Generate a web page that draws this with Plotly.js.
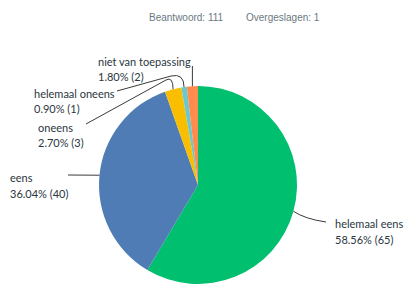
<!DOCTYPE html>
<html>
<head>
<meta charset="utf-8">
<script src="https://cdn.plot.ly/plotly-3.0.1.min.js"></script>
<style>
  html, body { margin: 0; padding: 0; background: #ffffff; }
  #chart { width: 407px; height: 286px; }
</style>
</head>
<body>
<div id="chart"></div>
<script>
// ---- data ----
var categories = ["helemaal eens", "eens", "oneens", "helemaal oneens", "niet van toepassing"];
var counts = [65, 40, 3, 1, 2];
var colors = ["#00BF6F", "#507CB6", "#F9BE00", "#6BC8CD", "#FF8B4F"];
var answered = 111;
var skipped = 1;

// ---- layout helpers (pixel -> paper, margins are zero) ----
var W = 407, H = 286;
function px(x) { return x / W; }
function py(y) { return 1 - y / H; }

// pie geometry (layout)
var cx = 198, cy = 185, r = 99;

var total = counts.reduce(function (a, b) { return a + b; }, 0);
var pct = counts.map(function (c) { return (100 * c / total).toFixed(2) + "%"; });

// mid-angle edge point of each slice (clockwise from 12 o'clock), derived from data
var edge = [];
var cum = 0;
for (var i = 0; i < counts.length; i++) {
  var mid = (cum + counts[i] / 2) / total * 2 * Math.PI;
  edge.push([cx + r * Math.sin(mid), cy - r * Math.cos(mid)]);
  cum += counts[i];
}

// label placement (layout): left x, first line y, second line y
var labelPos = [
  [333, 223, 239],
  [8, 177, 193],
  [36, 127, 142],
  [32, 94, 109],
  [96, 62, 77]
];

var annotations = [];
var font = { family: "Lato, 'Open Sans', sans-serif", size: 11, color: "#2b3640" };
for (var k = 0; k < categories.length; k++) {
  annotations.push({
    xref: "paper", yref: "paper", x: px(labelPos[k][0]), y: py(labelPos[k][1]),
    xanchor: "left", yanchor: "middle", showarrow: false, text: categories[k], font: font
  });
  annotations.push({
    xref: "paper", yref: "paper", x: px(labelPos[k][0]), y: py(labelPos[k][2]),
    xanchor: "left", yanchor: "middle", showarrow: false,
    text: pct[k] + " (" + counts[k] + ")", font: font
  });
}
// header
var hfont = { family: "'Liberation Sans', Arial, sans-serif", size: 10, color: "#6b787f" };
annotations.push({ xref: "paper", yref: "paper", x: px(147), y: py(18), xanchor: "left", yanchor: "middle",
  showarrow: false, text: "Beantwoord: " + answered, font: hfont });
annotations.push({ xref: "paper", yref: "paper", x: px(244), y: py(18), xanchor: "left", yanchor: "middle",
  showarrow: false, text: "Overgeslagen: " + skipped, font: hfont });

// leader lines (routes are layout; slice ends come from data)
function P(x, y) { return px(x) + "," + py(y); }
var routes = [
  "M" + P(edge[0][0], edge[0][1]) + " Q" + P(305, 219) + " " + P(326, 222),
  "M" + P(68, 175) + " L" + P(edge[1][0], edge[1][1]),
  "M" + P(86, 124) + " L" + P(166, 80) + " Q" + P(edge[2][0], 76) + " " + P(edge[2][0], edge[2][1]),
  "M" + P(117, 91) + " L" + P(171, 76) + " Q" + P(edge[3][0], 73) + " " + P(edge[3][0], edge[3][1]),
  "M" + P(edge[4][0], 66) + " L" + P(edge[4][0], edge[4][1])
];
var shapes = routes.map(function (p) {
  return { type: "path", xref: "paper", yref: "paper", path: p,
    line: { color: "#3a3a3a", width: 1 } };
});

var data = [{
  type: "pie",
  labels: categories,
  values: counts,
  sort: false,
  direction: "clockwise",
  rotation: 0,
  textinfo: "none",
  hoverinfo: "label+percent",
  marker: { colors: colors, line: { width: 0 } },
  domain: { x: [px(cx - r), px(cx + r)], y: [py(cy + r), py(cy - r)] },
  showlegend: false
}];

var layout = {
  width: W, height: H,
  margin: { l: 0, r: 0, t: 0, b: 0 },
  paper_bgcolor: "#ffffff",
  plot_bgcolor: "#ffffff",
  showlegend: false,
  annotations: annotations,
  shapes: shapes
};

Plotly.newPlot("chart", data, layout, { staticPlot: true, displayModeBar: false });
</script>
</body>
</html>
